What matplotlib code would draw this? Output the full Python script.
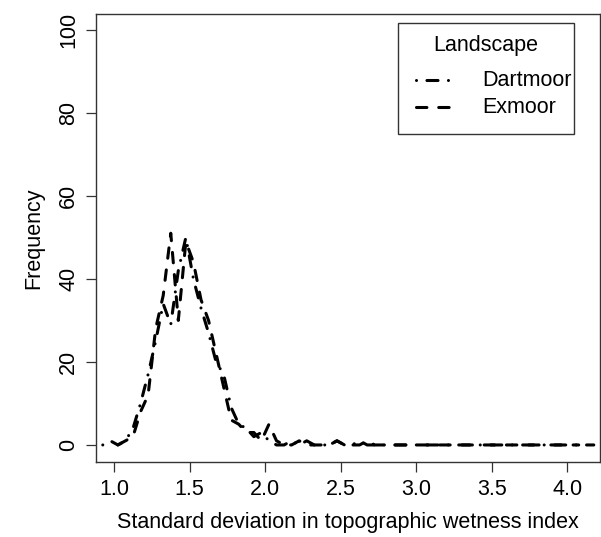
import matplotlib.pyplot as plt
from matplotlib.lines import Line2D
from matplotlib.patches import Rectangle

plt.rcParams['font.family'] = ['Liberation Sans', 'DejaVu Sans']
plt.rcParams['lines.scale_dashes'] = False

# frequency polygons (bin midpoints, counts)
dartmoor_x = [0.925, 0.975, 1.025, 1.075, 1.125, 1.175, 1.225, 1.275, 1.325, 1.375,
              1.425, 1.475, 1.525, 1.575, 1.625, 1.675, 1.725, 1.775, 1.825, 1.875,
              1.925, 1.975, 2.025, 2.075, 2.125, 2.175, 2.225, 2.275, 2.325, 2.425,
              2.475, 2.525, 2.575, 2.625, 2.675, 4.175]
dartmoor_y = [0, 1, 0, 1, 4, 10, 17, 25, 34, 29,
              42, 50, 40, 33, 27, 20, 17, 9, 5, 4,
              2, 3, 1, 0, 0, 1, 0, 1, 0, 0,
              1, 0, 0, 1, 0, 0]

exmoor_x = [1.025, 1.075, 1.125, 1.175, 1.225, 1.275, 1.325, 1.375, 1.425, 1.475,
            1.525, 1.575, 1.625, 1.675, 1.725, 1.775, 1.825, 1.875, 1.925, 1.975,
            2.025, 2.075, 2.125, 2.175, 2.225, 2.275, 2.425, 2.475, 2.525, 2.625,
            2.675, 2.725, 4.075]
exmoor_y = [0, 1, 2, 8, 12, 28, 36, 51, 30, 49,
            44, 35, 30, 22, 14, 6, 5, 3, 3, 1,
            5, 1, 0, 0, 1, 0, 0, 1, 0, 0,
            1, 0, 0]

series_names = ['Dartmoor', 'Exmoor']
x_ticks = [1.0, 1.5, 2.0, 2.5, 3.0, 3.5, 4.0]
y_ticks = [0, 20, 40, 60, 80, 100]

W, H = 601, 537
lw = 2.2
dotdash = (0, (0.01, 7.5, 8.0, 7.5))
dashed = (0, (7.5, 8.5))
styles = [dotdash, dashed]
fs = 15.5

fig = plt.figure(figsize=(W / 100, H / 100), dpi=100)
ax = fig.add_axes([0.1597, 0.1397, 0.8386, 0.8342])

ax.plot(dartmoor_x, dartmoor_y, color='black', lw=lw, linestyle=dotdash,
        dash_capstyle='round')
ax.plot(exmoor_x, exmoor_y, color='black', lw=lw, linestyle=dashed,
        dash_capstyle='round')

ax.set_xlim(0.88, 4.216)
ax.set_ylim(-4.1, 103.8)
ax.set_xticks(x_ticks)
ax.set_xticklabels([f'{t:.1f}' for t in x_ticks])
ax.set_yticks(y_ticks)
ax.set_yticklabels([str(t) for t in y_ticks], rotation=90, va='center')
ax.tick_params(direction='out', length=7, width=0.9, labelsize=fs, pad=5,
               color='#333333')
for s in ax.spines.values():
    s.set_linewidth(1.0)
    s.set_color('#333333')

ax.set_xlabel('Standard deviation in topographic wetness index', fontsize=fs, labelpad=9)
ax.set_ylabel('Frequency', fontsize=fs, labelpad=10)

# legend box drawn in figure pixels (y measured from the top)
def fx(px):
    return px / W

def fy(py):
    return 1 - py / H

fig.add_artist(Rectangle((fx(398), fy(134)), fx(574) - fx(398), fy(23) - fy(134),
                         transform=fig.transFigure, facecolor='white',
                         edgecolor='#333333', lw=1.0, zorder=5))
fig.text(fx(486), fy(45), 'Landscape', fontsize=fs, ha='center', va='center', zorder=6)
for name, style, py in zip(series_names, styles, [80, 107]):
    fig.add_artist(Line2D([fx(416), fx(458)], [fy(py), fy(py)], transform=fig.transFigure,
                          color='black', lw=lw, linestyle=style,
                          dash_capstyle='round', zorder=6))
    fig.text(fx(482), fy(py), name, fontsize=fs, ha='left', va='center', zorder=6)

fig.savefig('out.png', dpi=100)
